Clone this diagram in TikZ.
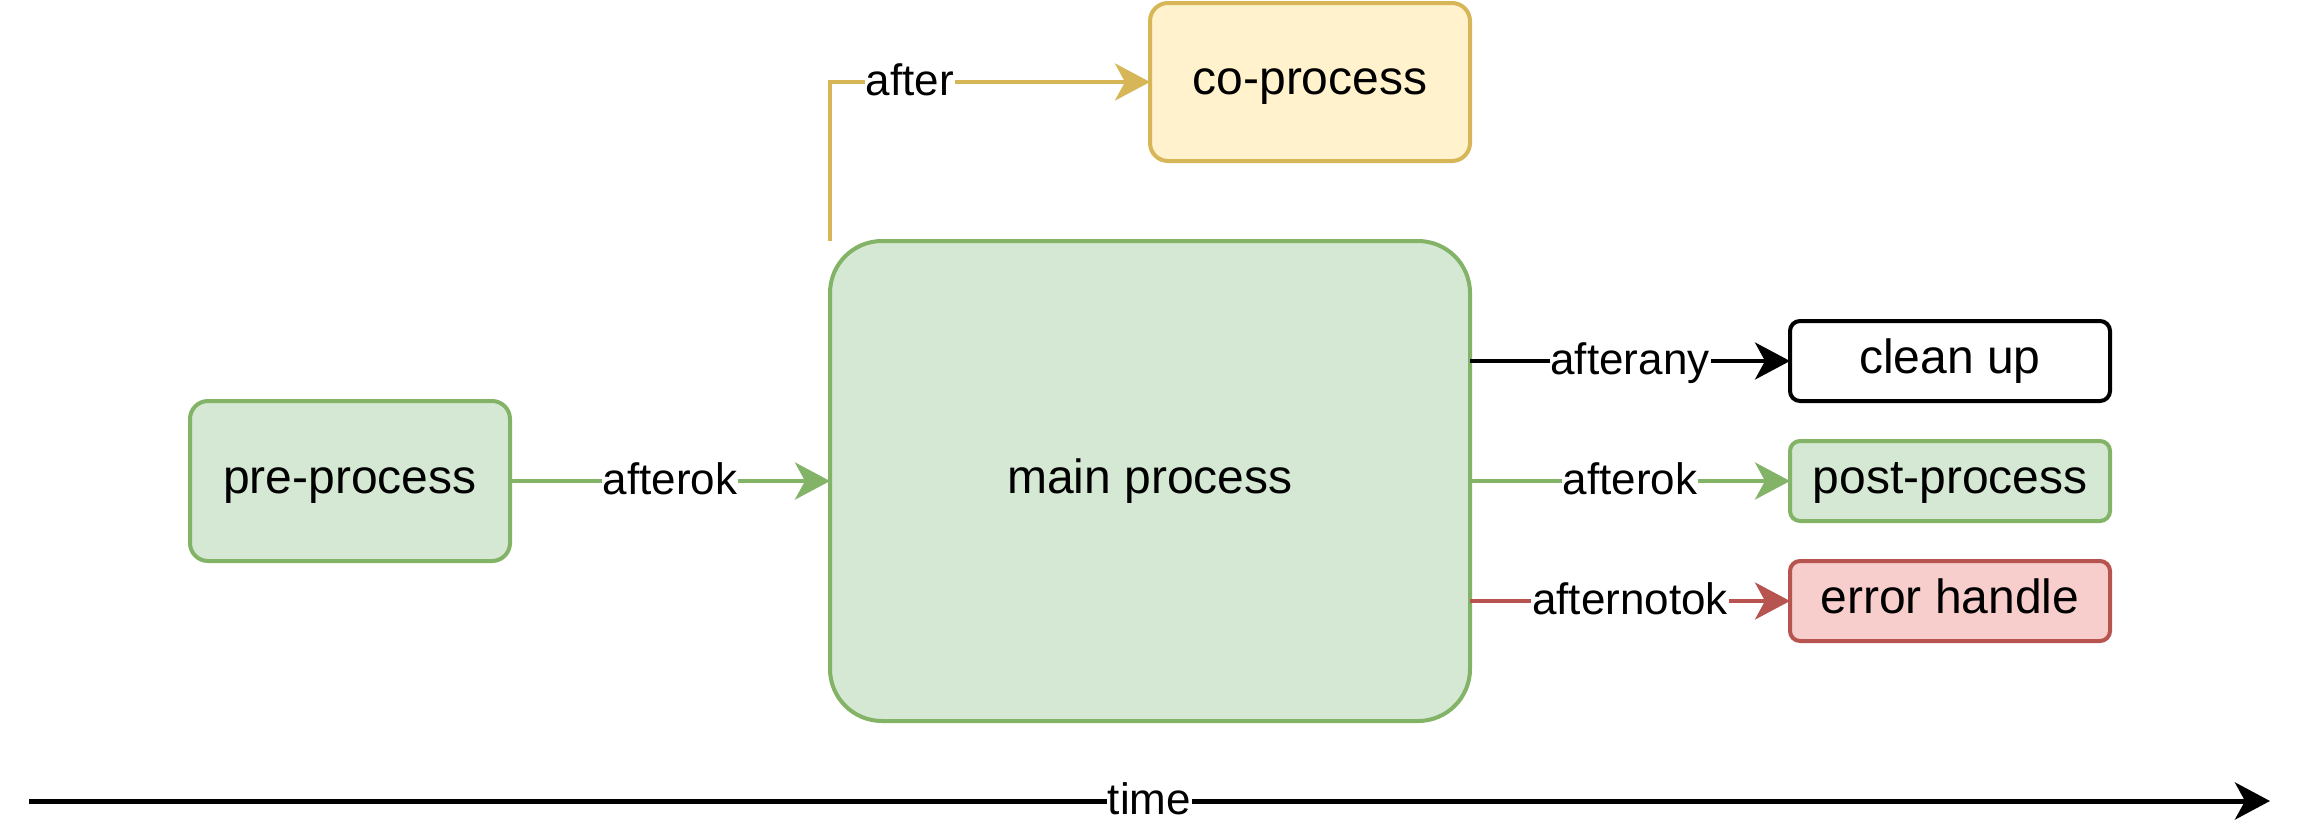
\documentclass[tikz,border=0pt]{standalone}
\usepackage{fontspec}
\setmainfont{Liberation Sans}
\usetikzlibrary{arrows.meta}
\definecolor{gfill}{HTML}{D5E8D4}
\definecolor{gline}{HTML}{82B366}
\definecolor{yfill}{HTML}{FFF2CC}
\definecolor{yline}{HTML}{D6B656}
\definecolor{rfill}{HTML}{F8CECC}
\definecolor{rline}{HTML}{B85450}
\begin{document}
\begin{tikzpicture}[x=1pt,y=-1pt,
 box/.style={draw, line width=4pt, outer sep=0pt, inner sep=0pt, font=\fontsize{48}{58}\selectfont, text height=34pt, text depth=10pt, rounded corners=#1},
 box/.default=16pt,
 conn/.style={line width=4pt, -{Stealth[length=35pt,width=37pt,inset=10pt]}},
 lbl/.style={fill=white, text=black, inner xsep=1pt, inner ysep=0pt, font=\fontsize{44}{52}\selectfont, text height=35pt, text depth=9pt}
]
\fill[white] (0,0) rectangle (2304,836);
\useasboundingbox (0,0) rectangle (2304,836);

\node[box=18pt, fill=gfill, draw=gline, minimum width=320pt, minimum height=160pt] (pre) at (350,481) {pre-process};
\node[box=52pt, fill=gfill, draw=gline, minimum width=640pt, minimum height=480pt] (main) at (1150,481) {main process};
\node[box=18pt, fill=yfill, draw=yline, minimum width=320pt, minimum height=158pt] (co) at (1310,82) {co-process};
\node[box=10pt, fill=white, draw=black, minimum width=320pt, minimum height=80pt] (clean) at (1950,361) {clean up};
\node[box=10pt, fill=gfill, draw=gline, minimum width=320pt, minimum height=80pt] (post) at (1950,481) {post-process};
\node[box=10pt, fill=rfill, draw=rline, minimum width=320pt, minimum height=80pt] (err) at (1950,601) {error handle};

\draw[conn, gline] (pre.east) -- node[lbl]{afterok} (main.west);
\draw[conn, yline] (main.north west) |- node[lbl, pos=0.625]{after} (co.west);
\draw[conn, black] (main.east |- clean) -- node[lbl]{afterany} (clean.west);
\draw[conn, gline] (main.east |- post) -- node[lbl]{afterok} (post.west);
\draw[conn, rline] (main.east |- err) -- node[lbl]{afternotok} (err.west);

\coordinate (t0) at (29,801);
\coordinate (t1) at (2270,801);
\draw[conn, black, line width=5pt] (t0) -- node[lbl]{time} (t1);
\end{tikzpicture}
\end{document}
